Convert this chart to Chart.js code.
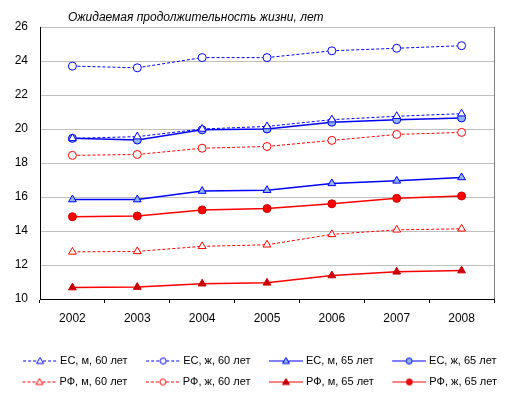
<!DOCTYPE html>
<html>
<head>
<meta charset="utf-8">
<script src="https://cdn.jsdelivr.net/npm/chart.js@4/dist/chart.umd.min.js"></script>
<style>
  html, body { margin: 0; padding: 0; background: #fff; }
</style>
</head>
<body>
<canvas id="grafico" width="511" height="399"></canvas>
<script>
// Datos
const anios = ['2002', '2003', '2004', '2005', '2006', '2007', '2008'];
const ecHombres60 = [19.45, 19.55, 20.0, 20.15, 20.55, 20.75, 20.9];
const ecMujeres60 = [23.7, 23.6, 24.2, 24.2, 24.6, 24.75, 24.9];
const ecHombres65 = [15.85, 15.85, 16.35, 16.4, 16.8, 16.95, 17.15];
const ecMujeres65 = [19.45, 19.35, 19.95, 20.0, 20.4, 20.55, 20.65];
const rfHombres60 = [12.77, 12.8, 13.1, 13.19, 13.8, 14.07, 14.13];
const rfMujeres60 = [18.45, 18.5, 18.87, 18.97, 19.33, 19.68, 19.8];
const rfHombres65 = [10.67, 10.7, 10.9, 10.95, 11.38, 11.6, 11.67];
const rfMujeres65 = [14.84, 14.88, 15.24, 15.32, 15.6, 15.92, 16.06];
const etiquetas = ['ЕС, м, 60 лет', 'ЕС, ж, 60 лет', 'ЕС, м, 65 лет', 'ЕС, ж, 65 лет',
                   'РФ, м, 60 лет', 'РФ, ж, 60 лет', 'РФ, м, 65 лет', 'РФ, ж, 65 лет'];
const ticksY = [10, 12, 14, 16, 18, 20, 22, 24, 26];
const titulo = 'Ожидаемая продолжительность жизни, лет';

const AZUL = '#0000FF';
const AZUL_CLARO = '#8DB6F2';
const ROJO = '#FF0000';
const ROJO_OSCURO = '#CC0000';
const FUENTE = '"Liberation Sans", Arial, sans-serif';

// estilo de cada serie
const estilos = [
    { color: AZUL, dash: [3, 2], forma: 'triangle', relleno: '#fff', borde: AZUL, ancho: 1 },
    { color: AZUL, dash: [3, 2], forma: 'circle', relleno: '#fff', borde: AZUL, ancho: 1 },
    { color: AZUL, dash: [], forma: 'triangle', relleno: AZUL_CLARO, borde: AZUL, ancho: 1.5 },
    { color: AZUL, dash: [], forma: 'circle', relleno: AZUL_CLARO, borde: AZUL, ancho: 1.5 },
    { color: ROJO, dash: [3, 2], forma: 'triangle', relleno: '#fff', borde: ROJO, ancho: 1 },
    { color: ROJO, dash: [3, 2], forma: 'circle', relleno: '#fff', borde: ROJO, ancho: 1 },
    { color: ROJO, dash: [], forma: 'triangle', relleno: ROJO_OSCURO, borde: ROJO_OSCURO, ancho: 1.5 },
    { color: ROJO, dash: [], forma: 'circle', relleno: ROJO, borde: ROJO_OSCURO, ancho: 1.5 }
];
const series = [ecHombres60, ecMujeres60, ecHombres65, ecMujeres65,
                rfHombres60, rfMujeres60, rfHombres65, rfMujeres65];

// icono de leyenda: linea con marcador al medio (estilo Excel)
// el lienzo es mas ancho y la linea va a la derecha, asi queda pegada al texto
function crearIcono(e) {
    const c = document.createElement('canvas');
    c.width = 45;
    c.height = 10;
    const ctx = c.getContext('2d');
    const x0 = 11, x1 = 45, xm = 28;
    ctx.strokeStyle = e.color;
    ctx.lineWidth = 1;
    ctx.setLineDash(e.dash);
    ctx.beginPath();
    ctx.moveTo(x0, 5.5);
    ctx.lineTo(x1, 5.5);
    ctx.stroke();
    ctx.setLineDash([]);
    ctx.fillStyle = e.relleno;
    ctx.strokeStyle = e.borde;
    ctx.beginPath();
    if (e.forma === 'circle') {
        ctx.arc(xm, 5.5, 3, 0, Math.PI * 2);
    } else {
        ctx.moveTo(xm, 2);
        ctx.lineTo(xm + 3.5, 8);
        ctx.lineTo(xm - 3.5, 8);
        ctx.closePath();
    }
    ctx.fill();
    ctx.stroke();
    return c;
}
const iconos = estilos.map(crearIcono);

const datasets = series.map((datos, i) => {
    const e = estilos[i];
    return {
        label: etiquetas[i],
        data: datos,
        borderColor: e.color,
        borderWidth: e.ancho,
        borderDash: e.dash,
        pointStyle: e.forma,
        pointRadius: e.forma === 'circle' ? 4 : 4.5,
        pointBackgroundColor: e.relleno,
        pointBorderColor: e.borde,
        pointBorderWidth: 1,
        tension: 0,
        fill: false
    };
});

// titulo y borde derecho del area de trazado
const tituloYBorde = {
    id: 'tituloYBorde',
    beforeDatasetsDraw(chart) {
        const { ctx, chartArea } = chart;
        ctx.save();
        ctx.strokeStyle = '#808080';
        ctx.lineWidth = 1;
        ctx.beginPath();
        ctx.moveTo(Math.round(chartArea.right) + 0.5, chartArea.top);
        ctx.lineTo(Math.round(chartArea.right) + 0.5, chartArea.bottom);
        ctx.stroke();
        ctx.restore();
    },
    afterDraw(chart) {
        const { ctx, chartArea } = chart;
        ctx.save();
        ctx.font = 'italic 12px ' + FUENTE;
        ctx.fillStyle = '#000';
        ctx.textBaseline = 'alphabetic';
        ctx.fillText(titulo, chartArea.left + 28, 21);
        ctx.restore();
    }
};

new Chart(document.getElementById('grafico'), {
    type: 'line',
    data: { labels: anios, datasets },
    plugins: [tituloYBorde],
    options: {
        responsive: false,
        animation: false,
        devicePixelRatio: 1,
        layout: { padding: { top: 27, right: 0, left: 0, bottom: 2 } },
        plugins: {
            title: { display: false },
            tooltip: { enabled: false },
            legend: {
                position: 'bottom',
                labels: {
                    usePointStyle: true,
                    pointStyleWidth: 40,
                    boxHeight: 11,
                    padding: 10,
                    color: '#000',
                    font: { family: FUENTE, size: 11 },
                    generateLabels(chart) {
                        return chart.data.datasets.map((ds, i) => ({
                            text: ds.label,
                            pointStyle: iconos[i],
                            fillStyle: 'transparent',
                            strokeStyle: 'transparent',
                            lineWidth: 0,
                            hidden: false,
                            datasetIndex: i
                        }));
                    }
                }
            }
        },
        scales: {
            x: {
                offset: true,
                afterFit(scale) { scale.height = 46; },
                grid: {
                    offset: true,
                    drawOnChartArea: false,
                    drawTicks: true,
                    tickLength: 4,
                    color: '#000'
                },
                border: { color: '#000', width: 1 },
                ticks: {
                    color: '#000',
                    padding: 8,
                    maxRotation: 0,
                    font: { family: FUENTE, size: 12 }
                }
            },
            y: {
                min: 10,
                max: 26,
                afterFit(scale) { scale.width = 40; },
                afterBuildTicks(scale) { scale.ticks = ticksY.map(v => ({ value: v })); },
                grid: { color: '#C0C0C0', drawTicks: false },
                border: { color: '#000', width: 1 },
                ticks: {
                    color: '#000',
                    padding: 12,
                    font: { family: FUENTE, size: 12 }
                }
            },
            // eje vacio a la derecha, solo reserva el margen del area de trazado
            margenDerecho: {
                position: 'right',
                min: 10,
                max: 26,
                afterFit(scale) { scale.width = 17; },
                grid: { display: false, drawTicks: false },
                border: { display: false },
                ticks: { display: false }
            }
        }
    }
});
</script>
</body>
</html>
